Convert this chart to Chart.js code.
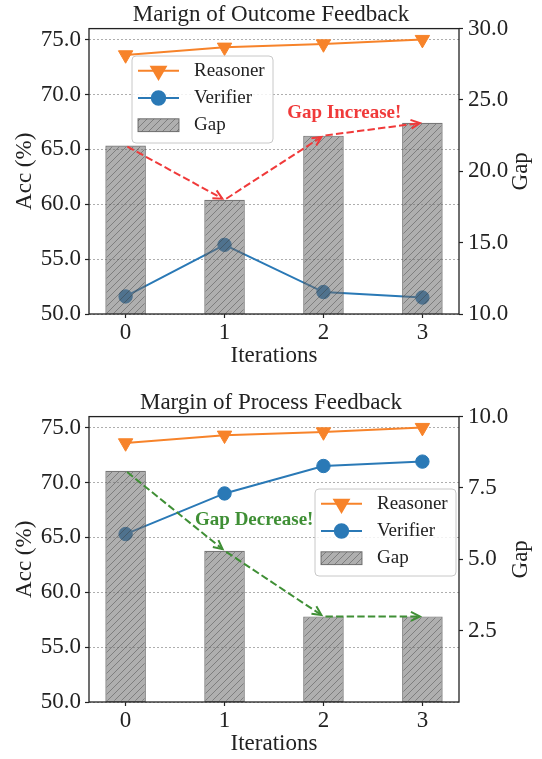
<!DOCTYPE html>
<html>
<head>
<meta charset="utf-8">
<script src="https://cdn.jsdelivr.net/npm/chart.js@4.4.0/dist/chart.umd.min.js"></script>
<style>
  body { margin: 0; background: #fff; }
  .panel { position: absolute; left: 0; width: 542px; height: 371px; }
</style>
</head>
<body>
<div class="panel" style="top:0"><canvas id="outcomeChart"></canvas></div>
<div class="panel" style="top:388px"><canvas id="processChart"></canvas></div>
<script>
// values
const iterations = [0, 1, 2, 3];
const outcomeReasoner = [73.6, 74.3, 74.6, 75.0];
const outcomeVerifier = [51.6, 56.3, 52.0, 51.5];
const outcomeGap = [21.8, 18.0, 22.5, 23.4];
const processReasoner = [73.6, 74.3, 74.6, 75.0];
const processVerifier = [65.3, 69.0, 71.5, 71.9];
const processGap = [8.1, 5.3, 3.0, 3.0];
const accTicks = [50, 55, 60, 65, 70, 75];
const outcomeGapTicks = [10, 15, 20, 25, 30];
const processGapTicks = [2.5, 5, 7.5, 10];

const FONT = "'Liberation Serif', 'Times New Roman', serif";
const INK = '#222222';
const REASONER_COLOR = '#f7832a';
const VERIFIER_COLOR = '#2a79b6';

Chart.defaults.font.family = FONT;
Chart.defaults.color = INK;

function makeHatch(ctx) {
    const c = document.createElement('canvas');
    c.width = 7; c.height = 7;
    const g = c.getContext('2d');
    g.fillStyle = 'rgba(110,110,110,0.55)';
    g.fillRect(0, 0, 7, 7);
    g.strokeStyle = 'rgba(55,55,55,0.45)';
    g.lineWidth = 0.9;
    g.beginPath();
    g.moveTo(0, 7); g.lineTo(7, 0);
    g.moveTo(-1, 1); g.lineTo(1, -1);
    g.moveTo(6, 8); g.lineTo(8, 6);
    g.stroke();
    return ctx.createPattern(c, 'repeat');
}

function drawArrow(ctx, x1, y1, x2, y2, color) {
    const ang = Math.atan2(y2 - y1, x2 - x1);
    const sx = x1 + Math.cos(ang) * 2, sy = y1 + Math.sin(ang) * 2;
    const ex = x2 - Math.cos(ang) * 2.5, ey = y2 - Math.sin(ang) * 2.5;
    ctx.save();
    ctx.strokeStyle = color;
    ctx.lineWidth = 2;
    ctx.setLineDash([7.4, 3.2]);
    ctx.beginPath();
    ctx.moveTo(sx, sy);
    ctx.lineTo(ex, ey);
    ctx.stroke();
    ctx.setLineDash([]);
    const head = 10, spread = 0.46;
    ctx.beginPath();
    ctx.moveTo(ex - head * Math.cos(ang - spread), ey - head * Math.sin(ang - spread));
    ctx.lineTo(ex, ey);
    ctx.lineTo(ex - head * Math.cos(ang + spread), ey - head * Math.sin(ang + spread));
    ctx.stroke();
    ctx.restore();
}

function drawLegend(chart, box) {
    const ctx = chart.ctx;
    const w = 141, h = 87, r = 4;
    ctx.save();
    ctx.beginPath();
    ctx.moveTo(box.x + r, box.y);
    ctx.arcTo(box.x + w, box.y, box.x + w, box.y + h, r);
    ctx.arcTo(box.x + w, box.y + h, box.x, box.y + h, r);
    ctx.arcTo(box.x, box.y + h, box.x, box.y, r);
    ctx.arcTo(box.x, box.y, box.x + w, box.y, r);
    ctx.closePath();
    ctx.fillStyle = 'rgba(255,255,255,0.85)';
    ctx.fill();
    ctx.strokeStyle = '#c8c8c8';
    ctx.lineWidth = 1;
    ctx.stroke();

    const rows = [14.8, 42.0, 69.2];
    const hx1 = box.x + 6, hx2 = box.x + 47;
    chart.data.datasets.forEach((ds, i) => {
        const cy = box.y + rows[i];
        if (ds.type === 'line') {
            ctx.strokeStyle = ds.borderColor;
            ctx.fillStyle = ds.backgroundColor;
            ctx.lineWidth = ds.borderWidth;
            ctx.beginPath();
            ctx.moveTo(hx1, cy);
            ctx.lineTo(hx2, cy);
            ctx.stroke();
            Chart.helpers.drawPoint(ctx, {
                pointStyle: ds.pointStyle,
                rotation: ds.pointRotation || 0,
                radius: ds.pointRadius,
                borderWidth: ds.pointBorderWidth
            }, (hx1 + hx2) / 2, cy);
        } else {
            ctx.fillStyle = ds.backgroundColor;
            ctx.fillRect(hx1, cy - 6.4, hx2 - hx1, 12.8);
            ctx.strokeStyle = ds.borderColor;
            ctx.lineWidth = 1;
            ctx.strokeRect(hx1, cy - 6.4, hx2 - hx1, 12.8);
        }
        ctx.fillStyle = INK;
        ctx.font = '19px ' + FONT;
        ctx.textAlign = 'left';
        ctx.textBaseline = 'middle';
        ctx.fillText(ds.label, box.x + 62, cy);
    });
    ctx.restore();
}

const decorations = {
    id: 'decorations',
    afterDatasetsDraw(chart, args, opts) {
        const x = chart.scales.x, yGap = chart.scales.yGap;
        const gap = opts.gap;
        for (let i = 0; i < gap.length - 1; i++) {
            drawArrow(chart.ctx,
                x.getPixelForValue(iterations[i]), yGap.getPixelForValue(gap[i]),
                x.getPixelForValue(iterations[i + 1]), yGap.getPixelForValue(gap[i + 1]),
                opts.color);
        }
        const ctx = chart.ctx;
        ctx.save();
        ctx.fillStyle = opts.color;
        ctx.font = 'bold 19px ' + FONT;
        ctx.textAlign = 'center';
        ctx.textBaseline = 'middle';
        ctx.fillText(opts.note, x.getPixelForValue(opts.noteAt[0]), yGap.getPixelForValue(opts.noteAt[1]));
        ctx.restore();
    },
    afterDraw(chart, args, opts) {
        const ctx = chart.ctx, a = chart.chartArea;
        ctx.save();
        ctx.strokeStyle = INK;
        ctx.lineWidth = 1.3;
        ctx.strokeRect(a.left, a.top, a.right - a.left, a.bottom - a.top);
        // right axis title, reading bottom to top
        ctx.translate(a.right + 62, (a.top + a.bottom) / 2);
        ctx.rotate(-Math.PI / 2);
        ctx.fillStyle = INK;
        ctx.font = '23px ' + FONT;
        ctx.textAlign = 'center';
        ctx.textBaseline = 'middle';
        ctx.fillText('Gap', 0, 0);
        ctx.restore();
        drawLegend(chart, opts.legendBox);
    }
};

function tickFont() {
    return { family: FONT, size: 23 };
}

function makeChart(canvasId, title, reasoner, verifier, gap, gapMin, gapMax, gapTicks, notes) {
    const ctx = document.getElementById(canvasId).getContext('2d');
    const hatch = makeHatch(ctx);
    const points = vals => iterations.map((it, i) => ({ x: it, y: vals[i] }));

    return new Chart(ctx, {
        data: {
            datasets: [
                {
                    type: 'line', label: 'Reasoner', data: points(reasoner), yAxisID: 'yAcc',
                    borderColor: REASONER_COLOR, backgroundColor: REASONER_COLOR, borderWidth: 2,
                    pointStyle: 'triangle', pointRotation: 180, pointRadius: 8.3, pointBorderWidth: 1,
                    order: 2
                },
                {
                    type: 'line', label: 'Verifier', data: points(verifier), yAxisID: 'yAcc',
                    borderColor: VERIFIER_COLOR, backgroundColor: VERIFIER_COLOR, borderWidth: 2,
                    pointStyle: 'circle', pointRadius: 6.7, pointBorderWidth: 1,
                    order: 1
                },
                {
                    type: 'bar', label: 'Gap', data: points(gap), yAxisID: 'yGap',
                    backgroundColor: hatch, borderColor: 'rgba(85,85,85,0.8)', borderWidth: 1.2,
                    borderSkipped: false, barPercentage: 0.41, categoryPercentage: 1,
                    order: 0
                }
            ]
        },
        options: {
            responsive: true,
            maintainAspectRatio: false,
            animation: false,
            layout: { padding: 0 },
            plugins: {
                legend: { display: false },
                tooltip: { enabled: false },
                title: {
                    display: true, text: title, color: INK,
                    font: { family: FONT, size: 23, weight: 'normal' },
                    padding: { top: 1, bottom: 0 }
                },
                decorations: notes
            },
            scales: {
                x: {
                    type: 'linear', min: -0.37, max: 3.37, offset: false,
                    afterBuildTicks: s => { s.ticks = iterations.map(v => ({ value: v })); },
                    afterFit: s => { s.height = 57; },
                    ticks: { font: tickFont(), color: INK, padding: 1, callback: v => String(v) },
                    grid: { offset: false, drawOnChartArea: false, tickLength: 4, tickColor: INK, tickWidth: 1.2 },
                    border: { display: false },
                    title: {
                        display: true, text: 'Iterations', color: INK, font: tickFont(),
                        padding: { top: 0, bottom: 1 }
                    }
                },
                yAcc: {
                    type: 'linear', position: 'left', min: 50, max: 76,
                    afterBuildTicks: s => { s.ticks = accTicks.map(v => ({ value: v })); },
                    afterFit: s => { s.width = 89; },
                    ticks: { font: tickFont(), color: INK, padding: 4, callback: v => v.toFixed(1) },
                    grid: {
                        color: 'rgba(120,120,120,0.75)', lineWidth: 0.8,
                        tickLength: 4, tickColor: INK, tickWidth: 1.2
                    },
                    border: { display: false, dash: [2, 2] },
                    title: {
                        display: true, text: 'Acc (%)', color: INK, font: tickFont(),
                        padding: { top: 11, bottom: 0 }
                    }
                },
                yGap: {
                    type: 'linear', position: 'right', min: gapMin, max: gapMax,
                    afterBuildTicks: s => { s.ticks = gapTicks.map(v => ({ value: v })); },
                    afterFit: s => { s.width = 83; },
                    ticks: { font: tickFont(), color: INK, padding: 5, callback: v => v.toFixed(1) },
                    grid: { drawOnChartArea: false, tickLength: 4, tickColor: INK, tickWidth: 1.2 },
                    border: { display: false }
                }
            }
        },
        plugins: [decorations]
    });
}

makeChart('outcomeChart', 'Marign of Outcome Feedback',
    outcomeReasoner, outcomeVerifier, outcomeGap, 10, 30, outcomeGapTicks,
    { gap: outcomeGap, color: '#f03a3a', note: 'Gap Increase!', noteAt: [2.21, 24.1],
      legendBox: { x: 132, y: 56 } });

makeChart('processChart', 'Margin of Process Feedback',
    processReasoner, processVerifier, processGap, 0, 10, processGapTicks,
    { gap: processGap, color: '#3f8f35', note: 'Gap Decrease!', noteAt: [1.30, 6.38],
      legendBox: { x: 315, y: 101 } });
</script>
</body>
</html>
